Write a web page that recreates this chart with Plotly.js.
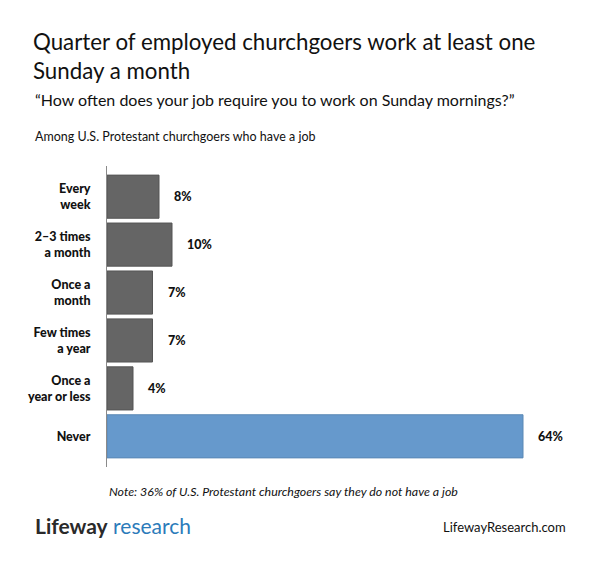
<!DOCTYPE html>
<html>
<head>
<meta charset="utf-8">
<script src="https://cdn.plot.ly/plotly-3.0.1.min.js"></script>
<style>html,body{margin:0;padding:0;background:#fff;}#chart{width:600px;height:568px;}</style>
</head>
<body>
<div id="chart"></div>
<script>
const categories = ["Every<br>week", "2–3 times<br>a month", "Once a<br>month", "Few times<br>a year", "Once a<br>year or less", "Never"];
const values = [8, 10, 7, 7, 4, 64];
const valueLabels = ["8%", "10%", "7%", "7%", "4%", "64%"];
const barColors = ["#656565", "#656565", "#656565", "#656565", "#656565", "#6699cc"];
const lineColors = ["#555555", "#555555", "#555555", "#555555", "#555555", "#5b88b5"];

const W = 600, H = 568;
const L = 107, R = 562, T = 166, B = 467;
const px = x => (x - L) / (R - L);
const py = y => (B - y) / (B - T);
const FONT = "Lato, 'Open Sans', sans-serif";

const idx = categories.map((c, i) => i);

const trace = {
  type: "bar",
  orientation: "h",
  x: values,
  y: idx,
  marker: {color: barColors, line: {color: lineColors, width: 1}},
  hoverinfo: "skip"
};

const annotations = values.map((v, i) => ({
  x: v, y: i, xref: "x", yref: "y", text: valueLabels[i],
  showarrow: false, xanchor: "left", xshift: 13,
  font: {family: FONT, size: 12.5, color: "#111", weight: 900}
}));

annotations.push(
  {xref: "paper", yref: "paper", x: px(31), y: py(56), xanchor: "left", yanchor: "middle", align: "left",
   text: "Quarter of employed churchgoers work at least one<br>Sunday a month", showarrow: false,
   font: {family: FONT, size: 22.3, color: "#111"}},
  {xref: "paper", yref: "paper", x: px(33), y: py(100), xanchor: "left", yanchor: "middle",
   text: "“How often does your job require you to work on Sunday mornings?”", showarrow: false,
   font: {family: FONT, size: 16, color: "#111"}},
  {xref: "paper", yref: "paper", x: px(33), y: py(137), xanchor: "left", yanchor: "middle",
   text: "Among U.S. Protestant churchgoers who have a job", showarrow: false,
   font: {family: FONT, size: 12.5, color: "#111"}},
  {xref: "paper", yref: "paper", x: px(107), y: py(491), xanchor: "left", yanchor: "middle",
   text: "<i>Note: 36% of U.S. Protestant churchgoers say they do not have a job</i>", showarrow: false,
   font: {family: FONT, size: 12.4, color: "#111"}},
  {xref: "paper", yref: "paper", x: px(33), y: py(525), xanchor: "left", yanchor: "middle",
   text: "<b>Lifeway</b><span style='color:#2b7bba'> research</span>", showarrow: false,
   font: {family: FONT, size: 21, color: "#2a2a2a"}},
  {xref: "paper", yref: "paper", x: px(568), y: py(527), xanchor: "right", yanchor: "middle",
   text: "LifewayResearch.com", showarrow: false,
   font: {family: FONT, size: 13, color: "#111"}}
);

const layout = {
  width: W, height: H,
  paper_bgcolor: "#fff", plot_bgcolor: "#fff",
  margin: {l: L, r: W - R, t: T, b: H - B, pad: 0},
  showlegend: false,
  bargap: 0.1,
  xaxis: {range: [0, 70], showgrid: false, zeroline: false, showticklabels: false, ticks: "", showline: false, fixedrange: true},
  yaxis: {
    range: [5.64, -0.64], tickmode: "array", tickvals: idx,
    ticktext: categories,
    showgrid: false, zeroline: false, ticks: "", showline: true, linecolor: "#8a8a8a", linewidth: 1,
    ticklabelstandoff: 13,
    tickfont: {family: FONT, size: 12.5, color: "#111", weight: 900}, fixedrange: true
  },
  annotations: annotations
};

Plotly.newPlot("chart", [trace], layout, {displayModeBar: false, staticPlot: true});
</script>
</body>
</html>
